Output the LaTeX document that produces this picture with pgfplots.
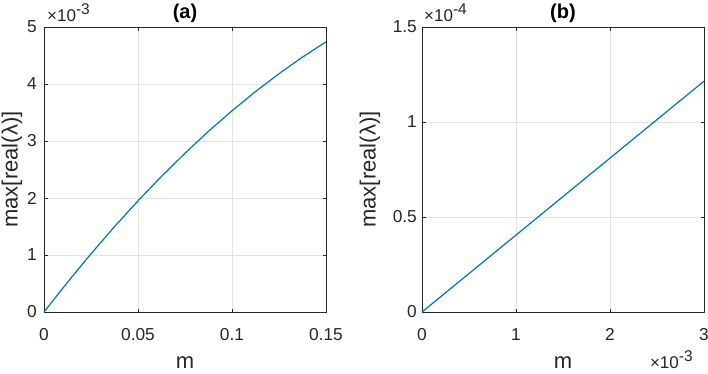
\documentclass[border=0pt]{standalone}
\usepackage{fontspec}
\setmainfont{Liberation Sans}
\usepackage{pgfplots}
\pgfplotsset{compat=1.18}

\definecolor{mblue}{RGB}{0,114,189}
\definecolor{maxis}{RGB}{38,38,38}
\definecolor{mgrid}{RGB}{228,228,228}

\pgfplotsset{
  mstyle/.style={
    scale only axis,
    width=282pt, height=285pt,
    scaled ticks=false,
    axis line style={maxis, line width=0.7pt},
    grid=major,
    major grid style={mgrid, line width=0.7pt},
    tick style={maxis, line width=0.7pt},
    major tick length=3.5pt,
    tick align=inside,
    xtick pos=both, ytick pos=both,
    ticklabel style={font=\fontsize{17.3}{19}\selectfont, text=maxis, inner sep=0pt},
    xticklabel style={anchor=north, yshift=-16pt},
    every axis x label/.style={at={(axis description cs:0.5,-0.1965)}, anchor=base,
      font=\fontsize{22}{24}\selectfont, text=maxis},
    title style={font=\fontsize{20}{22}\selectfont\bfseries, text=black,
      at={(axis description cs:0.5,1.028)}, anchor=center},
    clip=false,
  },
}
\tikzset{
  scalelab/.style={anchor=base west, font=\fontsize{17}{18}\selectfont, text=maxis, inner sep=0pt},
  ylab/.style={rotate=90, anchor=center, font=\fontsize{22}{24}\selectfont, text=maxis},
}

\newcommand{\tenpow}[1]{×10\raisebox{7pt}{\fontsize{15.5}{16}\selectfont #1}}

\begin{document}
\begin{tikzpicture}
\path[use as bounding box] (-44pt,-61pt) rectangle (664pt,312pt);

% (a)
\begin{axis}[
  mstyle,
  at={(0pt,0pt)}, anchor=south west,
  title={(a)},
  xlabel={m},
  ylabel={max[real(λ)]},
  every axis y label/.style={at={(axis description cs:-0.1135,0.5)}, ylab},
  xmin=0, xmax=0.15,
  ymin=0, ymax=0.005,
  xtick={0,0.05,0.1,0.15},
  xticklabels={0,0.05,0.1,0.15},
  ytick={0,0.001,0.002,0.003,0.004,0.005},
  yticklabels={0,1,2,3,4,5},
  yticklabel style={anchor=east, xshift=-7pt},
]
\addplot[mblue, line width=1.2pt] coordinates {
  (0,0) (0.0125,0.000522) (0.025,0.001021) (0.0375,0.001497) (0.05,0.001950)
  (0.0625,0.002380) (0.075,0.002786) (0.0875,0.003170) (0.1,0.003530)
  (0.1125,0.003867) (0.125,0.004181) (0.1375,0.004472) (0.15,0.004740)
};
\node[scalelab] at (axis description cs:0.0106,1.021) {\tenpow{-3}};
\end{axis}

% (b)
\begin{axis}[
  mstyle,
  at={(378pt,0pt)}, anchor=south west,
  title={(b)},
  xlabel={m},
  ylabel={max[real(λ)]},
  every axis y label/.style={at={(axis description cs:-0.185,0.5)}, ylab},
  xmin=0, xmax=0.003,
  ymin=0, ymax=0.00015,
  xtick={0,0.001,0.002,0.003},
  xticklabels={0,1,2,3},
  ytick={0,0.00005,0.0001,0.00015},
  yticklabel style={anchor=east, xshift=-5pt},
  yticklabels={0,0.5,1,1.5},
]
\addplot[mblue, line width=1.2pt] coordinates {
  (0,0) (0.001,0.0000405) (0.002,0.0000810) (0.003,0.0001215)
};
\node[scalelab] at (axis description cs:0.007,1.021) {\tenpow{-4}};
\node[scalelab] at (axis description cs:0.808,-0.198) {\tenpow{-3}};
\end{axis}
\end{tikzpicture}
\end{document}
